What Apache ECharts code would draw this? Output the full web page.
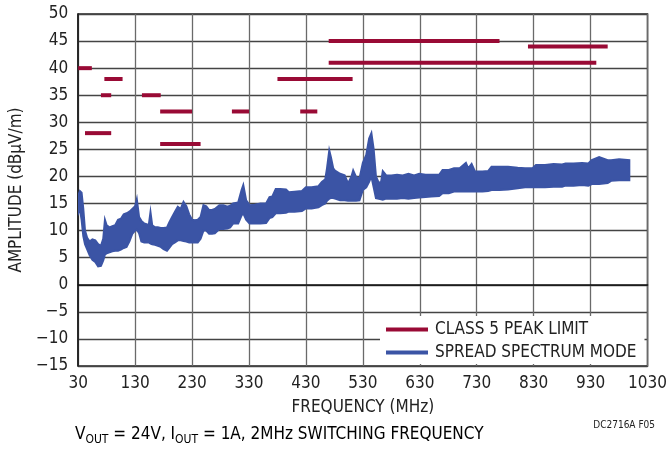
<!DOCTYPE html>
<html><head><meta charset="utf-8">
<script src="https://cdn.jsdelivr.net/npm/echarts@6/dist/echarts.min.js"></script>
<style>html,body{margin:0;padding:0;background:#fff}#c{width:670px;height:452px}</style>
</head><body><div id="c"></div>
<script>
// Class 5 peak limit segments
var limitStart = [30, 76, 70, 142, 174, 300, 420, 42, 174, 470, 820, 470, 380];
var limitEnd   = [54, 108, 88, 175, 230, 330, 450, 88, 245, 770, 960, 940, 512];
var limitLevel = [40, 38, 35, 35, 32, 32, 32, 28, 26, 45, 44, 41, 38];

// Spread spectrum measurement band (frequency, upper and lower envelope)
var specFreq = [30,33,36,39,42,46,50,55,60,65,70,74,77,80,85,90,95,100,105,110,115,120,125,130,133,137,141,146,150,154,157,160,165,170,175,180,186,190,195,200,205,210,215,220,225,230,235,240,245,250,255,260,265,270,278,285,292,297,302,311,317,320,325,331,340,350,360,366,371,377,385,395,400,410,423,430,440,452,458,464,467,471,474,478,481,490,498,504,510,513,518,524,530,536,541,545,549,553,558,562,565,571,580,590,600,610,620,629,640,650,664,670,681,690,700,711,715,721,727,740,750,756,770,785,802,815,828,834,850,865,880,886,900,915,926,932,945,960,966,980,998];
var specHi = [16.5,17.3,17.0,14.0,10.0,8.6,8.0,8.4,8.2,7.5,7.2,8.5,12.0,11.0,10.6,10.8,11.0,12.0,12.2,13.0,13.2,13.5,14.0,14.5,15.8,12.5,11.8,11.3,11.2,11.0,13.4,11.0,10.6,10.6,10.5,10.5,10.6,11.5,12.5,13.5,14.4,14.0,15.3,14.5,13.0,12.0,11.9,12.0,12.5,14.7,14.5,13.8,13.8,14.0,14.7,14.7,14.4,14.6,15.0,15.2,17.5,18.4,15.6,14.7,14.8,15.0,15.0,16.2,16.3,17.7,17.7,17.6,17.1,17.2,17.3,18.0,18.0,18.2,19.0,19.5,21.5,24.8,23.5,21.5,21.1,20.5,20.2,18.7,20.0,21.1,19.9,19.6,22.5,24.0,27.0,28.0,25.0,20.0,18.8,19.0,21.0,20.2,20.2,20.3,20.2,20.5,20.2,20.5,20.3,20.3,20.3,21.2,21.2,21.5,21.5,22.5,21.5,22.3,20.9,20.9,21.0,21.8,21.8,21.8,21.6,21.5,21.5,22.1,22.1,22.3,22.2,22.4,22.4,22.5,22.4,23.0,23.6,23.0,23.0,23.2,23.0];
var specLo = [13.2,14.0,12.0,9.0,7.5,6.5,5.5,4.6,4.2,3.4,3.5,4.5,5.6,5.8,6.0,6.2,6.3,6.3,6.5,6.8,7.0,8.0,9.4,10.0,10.2,9.5,8.0,7.8,7.8,7.8,7.6,7.5,7.4,7.2,7.0,6.6,6.3,6.8,7.5,7.8,8.2,8.2,8.1,8.0,7.8,7.8,7.8,7.8,8.5,10.0,10.0,9.4,9.4,9.5,10.3,10.3,10.4,10.6,11.3,11.3,12.8,13.2,12.0,11.3,11.3,11.3,11.4,12.3,12.5,13.2,13.2,13.3,13.5,13.5,13.6,14.1,14.1,14.3,14.7,15.0,15.5,15.9,16.0,16.0,15.9,15.6,15.6,15.5,15.5,15.5,15.5,15.6,17.5,18.0,19.0,20.0,18.0,16.0,15.9,15.8,15.7,15.9,15.9,15.9,16.0,15.9,16.0,16.1,16.2,16.3,16.4,16.9,16.9,17.2,17.2,17.2,17.2,17.2,17.2,17.2,17.3,17.5,17.5,17.6,17.8,18.0,18.0,18.0,18.0,18.1,18.1,18.3,18.3,18.4,18.3,18.6,18.6,18.8,19.2,19.3,19.3];

var xTicks = {min: 30, max: 1030, step: 100};
var yTicks = {min: -15, max: 50, step: 5};

var RED = '#990a35', BLUE = '#3b54a5';
var FONT = '"Liberation Sans Narrow","DejaVu Sans Condensed","Arial Narrow",sans-serif';

var series = [];
series.push({
  name: 'SPREAD SPECTRUM MODE',
  type: 'custom',
  clip: true,
  itemStyle: {color: BLUE},
  data: [[specFreq[0], specHi[0]]],
  renderItem: function (params, api) {
    var pts = [];
    for (var i = 0; i < specFreq.length; i++) pts.push(api.coord([specFreq[i], specHi[i]]));
    for (var j = specFreq.length - 1; j >= 0; j--) pts.push(api.coord([specFreq[j], specLo[j]]));
    return {type: 'polygon', shape: {points: pts}, style: {fill: BLUE, stroke: BLUE, lineWidth: 2, lineJoin: 'miter'}};
  },
  z: 2
});
for (var k = 0; k < limitStart.length; k++) {
  series.push({
    name: 'CLASS 5 PEAK LIMIT',
    type: 'line',
    symbol: 'none',
    silent: true,
    lineStyle: {color: RED, width: 4},
    itemStyle: {color: RED},
    data: [[limitStart[k], limitLevel[k]], [limitEnd[k], limitLevel[k]]],
    z: 3
  });
}

var chart = echarts.init(document.getElementById('c'), null, {renderer: 'canvas'});
chart.setOption({
  animation: false,
  backgroundColor: '#fff',
  textStyle: {fontFamily: FONT},
  grid: {left: 75, top: 14, width: 577, height: 352, show: true, borderColor: '#222', borderWidth: 1.5, backgroundColor: 'transparent'},
  legend: {
    orient: 'vertical', left: 380, top: 316,
    backgroundColor: '#fff', padding: [5, 8, 3, 6], itemGap: 6,
    itemWidth: 42, itemHeight: 4,
    textStyle: {fontFamily: FONT, fontSize: 17, color: '#222', padding: [0, 0, 0, 2]},
    data: [{name: 'CLASS 5 PEAK LIMIT', icon: 'rect'}, {name: 'SPREAD SPECTRUM MODE', icon: 'rect'}]
  },
  xAxis: {
    type: 'value', min: xTicks.min, max: xTicks.max, interval: xTicks.step,
    name: 'FREQUENCY (MHz)', nameLocation: 'middle', nameGap: 33,
    nameTextStyle: {fontFamily: FONT, fontSize: 17, color: '#222'},
    axisLine: {show: true, lineStyle: {color: '#111', width: 1.5}},
    axisTick: {show: false},
    axisLabel: {fontFamily: FONT, fontSize: 17, color: '#222', margin: 9, showMaxLabel: true, showMinLabel: true,
      formatter: function (v) { return String(v); }},
    splitLine: {show: true, lineStyle: {color: '#6a6a6a', width: 1.3}}
  },
  yAxis: {
    type: 'value', min: yTicks.min, max: yTicks.max, interval: yTicks.step,
    name: 'AMPLITUDE (dBµV/m)', nameLocation: 'middle', nameGap: 48,
    nameTextStyle: {fontFamily: FONT, fontSize: 17, color: '#222'},
    axisLine: {show: true, lineStyle: {color: '#111', width: 1.5}},
    axisTick: {show: false},
    axisLabel: {fontFamily: FONT, fontSize: 17, color: '#222', margin: 10,
      formatter: function (v) { return v < 0 ? '\u2212' + Math.abs(v) : String(v); }},
    splitLine: {show: true, lineStyle: {color: '#444', width: 1.3}}
  },
  graphic: [
    {type: 'text', left: 75, top: 426, style: {
      text: '{a|V}{s|OUT}{a| = 24V, I}{s|OUT}{a| = 1A, 2MHz SWITCHING FREQUENCY}',
      rich: {
        a: {fontFamily: FONT, fontSize: 17, color: '#222', lineHeight: 22},
        s: {fontFamily: FONT, fontSize: 12, color: '#222', lineHeight: 12, verticalAlign: 'bottom'}
      }
    }},
    {type: 'text', right: 15, top: 420, style: {text: 'DC2716A F05', fontFamily: FONT, fontSize: 10, fill: '#222'}}
  ],
  series: series
});
</script></body></html>
